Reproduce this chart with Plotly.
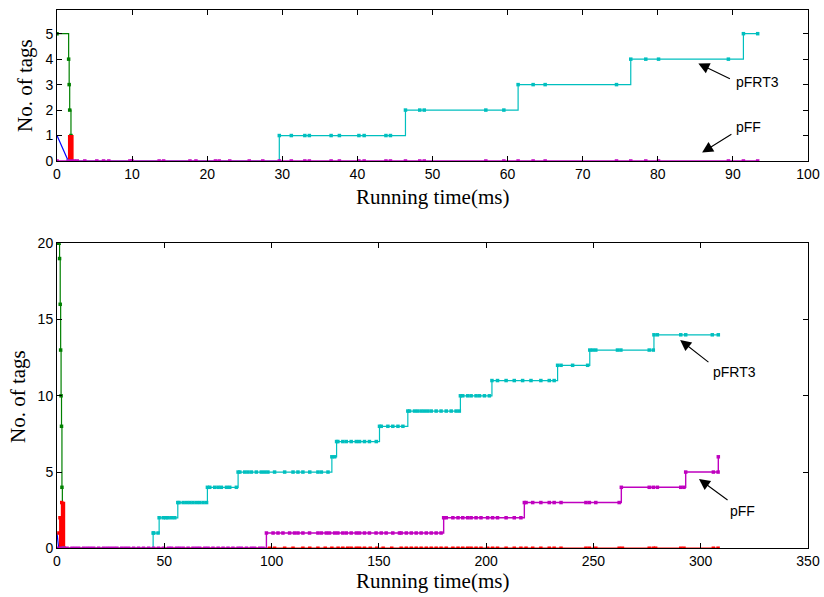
import plotly.graph_objects as go

# ---------------- data: upper panel (0-100 ms) ----------------
# step series are stored as event times grouped by tag count (index = count)
top_cyan_times = [
    [1.5],
    [29.6, 31.2, 33.0, 33.6, 36.5, 37.6, 40.2, 40.9, 43.8, 44.4],
    [46.4, 48.3, 48.9, 57.1, 59.5],
    [61.4, 63.4, 65.0, 74.5],
    [76.4, 78.4, 80.1, 89.4],
    [91.4, 93.3],
]
top_magenta_times = [
    [0.0, 1.5, 1.9, 2.3, 2.7, 3.7, 5.3, 6.2, 6.9, 9.7, 10.0, 13.6, 14.2,
     17.7, 18.5, 21.1, 21.6, 23.0, 25.6, 27.4, 29.6, 31.2, 33.0, 33.6,
     36.5, 37.6, 40.2, 40.9, 43.8, 44.4, 46.4, 48.3, 48.9, 57.1, 59.5,
     61.4, 63.4, 65.0, 74.5, 76.4, 78.4, 80.1, 89.4, 91.4, 93.3],
]
top_green_t = [0.0, 1.55, 1.62, 1.69, 1.86, 1.90]
top_green_n = [5, 4, 3, 2, 1, 0]
top_blue_t = [0.0, 1.5, 2.5]
top_blue_n = [1, 0, 0]
top_red_t = [1.46, 2.13, 2.6]
top_red_n = [1, 0, 0]

# ---------------- data: lower panel (0-350 ms) ----------------
bot_cyan_times = [
    [3.0],
    [44.8, 45.1, 47.1],
    [47.6, 49.5, 50.7, 51.8, 53.4, 54.9],
    [56.3, 56.9, 58.8, 60.4, 61.9, 63.4, 65.0, 66.5, 68.1, 69.7],
    [70.1, 71.2, 73.5, 75.1, 76.6, 79.0, 80.5, 83.6],
    [84.4, 85.2, 87.5, 89.0, 90.6, 92.9, 95.2, 96.8, 98.3, 101.4, 106.1,
     110.0, 112.3, 114.6, 117.8, 121.6, 123.2, 126.3],
    [128.1, 129.4],
    [130.3, 130.9, 133.2, 134.8, 137.1, 139.5, 141.0, 143.3, 145.6, 148.8],
    [150.3, 151.1, 154.2, 156.5, 158.9, 161.2],
    [163.5, 164.3, 166.6, 168.1, 169.7, 171.2, 172.8, 174.4, 176.7, 179.0,
     181.4, 183.7, 186.0, 187.5],
    [188.0, 189.1, 191.4, 193.0, 195.3, 196.9, 199.2, 201.5],
    [202.7, 205.3, 209.3, 213.1, 217.0, 220.9, 225.5, 229.4, 231.7],
    [233.3, 234.9, 240.3, 247.3],
    [248.3, 249.6, 251.1, 261.2, 262.8, 276.0, 277.9],
    [278.2, 279.8, 290.7, 293.0, 305.4, 308.2],
]
bot_magenta_times = [
    [0.0, 1.6, 3.1, 4.7, 7.0, 8.5, 10.1, 12.4, 14.0, 15.5, 17.1, 19.4,
     21.7, 23.3, 24.8, 26.4, 27.9, 30.2, 31.8, 33.4, 35.7, 38.0, 40.3,
     42.7, 45.0, 47.3, 49.6, 52.0, 53.4, 55.7, 57.2, 58.8, 61.1, 63.4,
     65.0, 66.5, 68.9, 70.4, 72.7, 75.1, 77.4, 79.7, 82.0, 84.4, 85.9,
     88.3, 90.6, 92.1, 94.5, 96.0],
    [97.6, 100.7, 103.0, 105.3, 108.4, 110.7, 112.3, 114.6, 117.7, 121.6,
     123.2, 125.5, 127.0, 129.4, 130.9, 133.2, 134.8, 137.1, 139.5, 141.0,
     143.3, 145.6, 148.7, 151.1, 153.4, 156.5, 159.6, 160.4, 162.8, 165.1,
     167.4, 169.7, 172.1, 174.4, 176.7, 179.0],
    [180.2, 181.4, 184.5, 186.9, 189.1, 191.4, 193.0, 195.3, 197.6, 200.7,
     203.0, 205.3, 209.3, 213.1, 216.2],
    [217.8, 218.6, 221.7, 225.5, 229.4, 231.7, 234.9, 246.5, 248.1, 251.1,
     262.0],
    [263.0, 276.0, 277.9, 279.8, 290.7, 292.2],
    [293.0, 305.9, 308.1],
    [308.2],
]
bot_green_t = [0.0, 1.0, 1.2, 1.5, 1.7, 1.9, 2.1, 2.3, 2.5]
bot_green_n = [20, 20, 19, 16, 13, 10, 8, 4, 0]
bot_blue_t = [0.0, 0.8, 2.0]
bot_blue_n = [1, 0, 0]
bot_red_t = [0.9, 1.4, 2.2, 3.4, 99.1, 101.4, 106.1, 110.0, 114.6, 117.8,
             121.6, 125.0, 128.1, 131.0, 133.2, 135.5, 137.1, 139.5, 141.0,
             143.3, 146.0, 149.0, 152.0, 156.0, 160.4, 162.8, 165.1, 167.4,
             169.7, 172.1, 174.4, 176.7, 179.0, 181.4, 184.5, 186.9, 189.1,
             191.4, 193.0, 195.3, 197.6, 200.7, 203.0, 205.3, 209.3, 213.1,
             216.2, 218.6, 221.7, 225.5, 229.4, 231.7, 234.9, 246.5, 248.1,
             251.1, 262.0, 263.5, 276.0, 277.9, 279.0, 290.7, 292.2, 305.9,
             308.1]
bot_red_n = [1, 2, 3] + [0] * 62

# axis ticks
top_xticks = list(range(0, 101, 10))
top_yticks = [0, 1, 2, 3, 4, 5]
bot_xticks = list(range(0, 351, 50))
bot_yticks = [0, 5, 10, 15, 20]

GREEN = "#008000"
CYAN = "#00BFBF"
MAGENTA = "#BF00BF"
RED = "#FF0000"
BLUE = "#0000FF"


def flatten(groups):
    """Turn tag-count groups of event times into x/y step coordinates."""
    xs, ys = [], []
    for count, times in enumerate(groups):
        for t in times:
            xs.append(t)
            ys.append(count)
    return xs, ys


def step_trace(x, y, color, xa, ya, fill=None, width=1.2, markers=True):
    return go.Scatter(
        x=x, y=y, xaxis=xa, yaxis=ya,
        mode="lines+markers" if markers else "lines",
        line=dict(color=color, width=width, shape="hv"),
        marker=dict(symbol="square", size=3.5, color=color),
        fill=fill, fillcolor=color if fill else None,
        showlegend=False, hoverinfo="x+y",
    )


fig = go.Figure()

# upper panel
fig.add_trace(go.Scatter(x=top_blue_t, y=top_blue_n, xaxis="x", yaxis="y",
                         mode="lines", line=dict(color=BLUE, width=1.2),
                         showlegend=False))
fig.add_trace(step_trace(top_green_t, top_green_n, GREEN, "x", "y"))
fig.add_trace(step_trace(top_red_t, top_red_n, RED, "x", "y",
                         fill="tozeroy", markers=False))
cx, cy = flatten(top_cyan_times)
fig.add_trace(step_trace(cx, cy, CYAN, "x", "y"))
mx, my = flatten(top_magenta_times)
fig.add_trace(step_trace(mx, my, MAGENTA, "x", "y", width=1.6))

# lower panel
fig.add_trace(go.Scatter(x=bot_blue_t, y=bot_blue_n, xaxis="x2", yaxis="y2",
                         mode="lines", line=dict(color=BLUE, width=1.2),
                         showlegend=False))
fig.add_trace(step_trace(bot_green_t, bot_green_n, GREEN, "x2", "y2"))
fig.add_trace(step_trace(bot_red_t, bot_red_n, RED, "x2", "y2",
                         fill="tozeroy", width=1.8))
cx, cy = flatten(bot_cyan_times)
fig.add_trace(step_trace(cx, cy, CYAN, "x2", "y2"))
mx, my = flatten(bot_magenta_times)
fig.add_trace(step_trace(mx, my, MAGENTA, "x2", "y2", width=1.4))

W, H = 824, 597
x_dom = [57 / W, 808 / W]
axis_common = dict(
    showline=True, linecolor="black", linewidth=1, mirror="allticks",
    ticks="inside", ticklen=5, tickwidth=1, tickcolor="black",
    showgrid=False, zeroline=False, automargin=False,
    tickfont=dict(family="Liberation Sans, Arial", size=14, color="black"),
)

fig.update_layout(
    width=W, height=H,
    margin=dict(l=0, r=0, t=0, b=0, autoexpand=False),
    paper_bgcolor="white", plot_bgcolor="white",
    xaxis=dict(domain=x_dom, range=[0, 100], tickvals=top_xticks,
               anchor="y", **axis_common),
    yaxis=dict(domain=[(H - 161) / H, (H - 10) / H], range=[0, 5.93],
               tickvals=top_yticks, anchor="x", **axis_common),
    xaxis2=dict(domain=x_dom, range=[0, 350], tickvals=bot_xticks,
                anchor="y2", **axis_common),
    yaxis2=dict(domain=[(H - 548.3) / H, (H - 243.3) / H], range=[0, 20],
                tickvals=bot_yticks, anchor="x2", **axis_common),
)

title_font = dict(family="Liberation Serif, Times New Roman", size=21,
                  color="black")
label_font = dict(family="Liberation Sans, Arial", size=14, color="black")

# axis titles
for ypix in (197, 581):
    fig.add_annotation(text="Running time(ms)", xref="paper", yref="paper",
                       x=432 / W, y=1 - ypix / H, showarrow=False,
                       font=title_font, xanchor="center", yanchor="middle")
fig.add_annotation(text="No. of tags", xref="paper", yref="paper",
                   x=25 / W, y=1 - 86 / H, textangle=-90, showarrow=False,
                   font=title_font, xanchor="center", yanchor="middle")
fig.add_annotation(text="No. of tags", xref="paper", yref="paper",
                   x=18 / W, y=1 - 397 / H, textangle=-90, showarrow=False,
                   font=title_font, xanchor="center", yanchor="middle")

# series callouts: (label, text x, text y, arrow tail, arrow tip, axes)
callouts = [
    ("pFRT3", 90.1, 3.11, (89.8, 3.2), (85.4, 3.83), "x", "y"),
    ("pFF", 90.1, 1.35, (90.0, 1.09), (85.9, 0.33), "x", "y"),
    ("pFRT3", 304.6, 11.58, (304.3, 12.13), (290.4, 13.66), "x2", "y2"),
    ("pFF", 312.9, 2.47, (313.2, 3.1), (299.2, 4.54), "x2", "y2"),
]
for label, tx, ty, tail, tip, xa, ya in callouts:
    fig.add_annotation(text=label, x=tx, y=ty, xref=xa, yref=ya,
                       showarrow=False, xanchor="left", yanchor="middle",
                       font=label_font)
    fig.add_annotation(text="", x=tip[0], y=tip[1], xref=xa, yref=ya,
                       ax=tail[0], ay=tail[1], axref=xa, ayref=ya,
                       showarrow=True, arrowhead=2, arrowsize=2.0,
                       arrowwidth=1.1, arrowcolor="black", standoff=0)

fig.write_html("out.html")
